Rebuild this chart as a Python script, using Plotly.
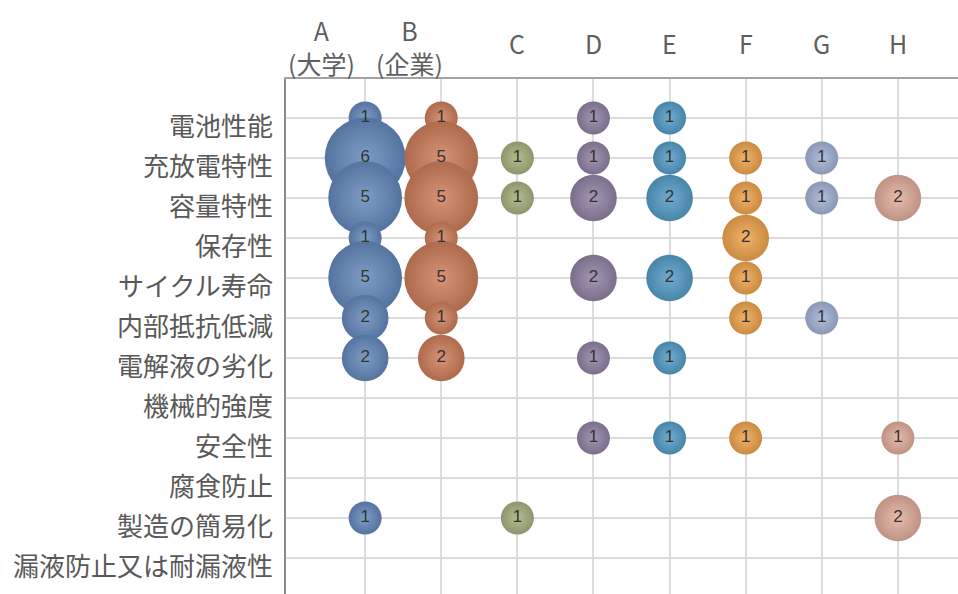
import plotly.graph_objects as go

# Evaluation items (rows, top to bottom)
items = [
    "電池性能", "充放電特性", "容量特性", "保存性", "サイクル寿命", "内部抵抗低減",
    "電解液の劣化", "機械的強度", "安全性", "腐食防止", "製造の簡易化", "漏液防止又は耐漏液性",
]

# Applicant groups (columns, left to right)
groups = ["A", "B", "C", "D", "E", "F", "G", "H"]
group_labels = ["A<br>(大学)", "B<br>(企業)", "C", "D", "E", "F", "G", "H"]

# Number of documents per item for each group (0 = none)
count_a = [1, 6, 5, 1, 5, 2, 2, 0, 0, 0, 1, 0]
count_b = [1, 5, 5, 1, 5, 1, 2, 0, 0, 0, 0, 0]
count_c = [0, 1, 1, 0, 0, 0, 0, 0, 0, 0, 1, 0]
count_d = [1, 1, 2, 0, 2, 0, 1, 0, 1, 0, 0, 0]
count_e = [1, 1, 2, 0, 2, 0, 1, 0, 1, 0, 0, 0]
count_f = [0, 1, 1, 2, 1, 1, 0, 0, 1, 0, 0, 0]
count_g = [0, 1, 1, 0, 0, 1, 0, 0, 0, 0, 0, 0]
count_h = [0, 0, 2, 0, 0, 0, 0, 0, 1, 0, 2, 0]
counts = [count_a, count_b, count_c, count_d, count_e, count_f, count_g, count_h]

colors = ["#5e84b7", "#cc7852", "#a2ae76", "#8c7d9e", "#4e99c3", "#eda044", "#9eafd2", "#e0aa96"]

label_shift = {"A": -44, "B": -32}

# bubble area proportional to count; diameter of a count-1 bubble in px
UNIT_DIAMETER = 33


def mix(hex_color, target, t):
    h = hex_color.lstrip("#")
    r, g, b = (int(h[i:i + 2], 16) for i in (0, 2, 4))
    tr, tg, tb = target
    return "rgb({},{},{})".format(
        round(r + (tr - r) * t), round(g + (tg - g) * t), round(b + (tb - b) * t)
    )


fig = go.Figure()

for gi, (name, vals, col) in enumerate(zip(groups, counts, colors)):
    xs, ys, vs = [], [], []
    for ri, v in enumerate(vals):
        if v > 0:
            xs.append(gi + 1)
            ys.append(ri + 1)
            vs.append(v)
    fig.add_trace(go.Scatter(
        x=xs, y=ys, mode="markers+text", name=name,
        text=[str(v) for v in vs],
        textposition="middle center",
        textfont=dict(family="Liberation Sans, Arial", size=17, color="#333333"),
        marker=dict(
            size=[UNIT_DIAMETER * v ** 0.5 for v in vs], sizemode="diameter",
            color=mix(col, (40, 40, 50), 0.18),
            gradient=dict(type="radial", color=mix(col, (255, 255, 255), 0.2)),
            line=dict(width=0), opacity=1,
        ),
        hoverinfo="skip", showlegend=False,
    ))

label_font = dict(family="Noto Sans CJK JP", size=26, color="#595959")

annotations = []
for ri, name in enumerate(items):
    annotations.append(dict(
        xref="paper", yref="y", x=0, y=ri + 1, text=name, showarrow=False,
        xanchor="right", yanchor="middle", xshift=-11, yshift=-6, font=label_font,
    ))
for gi, (g, lab) in enumerate(zip(groups, group_labels)):
    annotations.append(dict(
        xref="x", yref="paper", x=gi + 1, y=1, text=lab, showarrow=False,
        xanchor="center", yanchor="middle", xshift=label_shift.get(g, 0),
        yshift=33 if "<br>" in lab else 36,
        font=dict(family="Noto Sans CJK JP", size=25, color="#5f5f5f"),
    ))

fig.update_layout(
    width=958, height=594,
    margin=dict(l=286, r=0, t=79, b=0),
    paper_bgcolor="white", plot_bgcolor="white",
    showlegend=False,
    annotations=annotations,
    xaxis=dict(
        range=[-0.04, 8.79], tickvals=list(range(1, len(groups) + 1)),
        showticklabels=False, ticks="", side="top",
        showgrid=True, gridcolor="#dcdcdc", gridwidth=2, zeroline=False,
        showline=True, linecolor="#a3a3a3", linewidth=2,
    ),
    yaxis=dict(
        range=[12.9, 0.025], tickvals=list(range(1, len(items) + 1)),
        showticklabels=False, ticks="",
        showgrid=True, gridcolor="#dcdcdc", gridwidth=2, zeroline=False,
        showline=True, linecolor="#8c8c8c", linewidth=2,
    ),
)

fig.write_html("out.html")
